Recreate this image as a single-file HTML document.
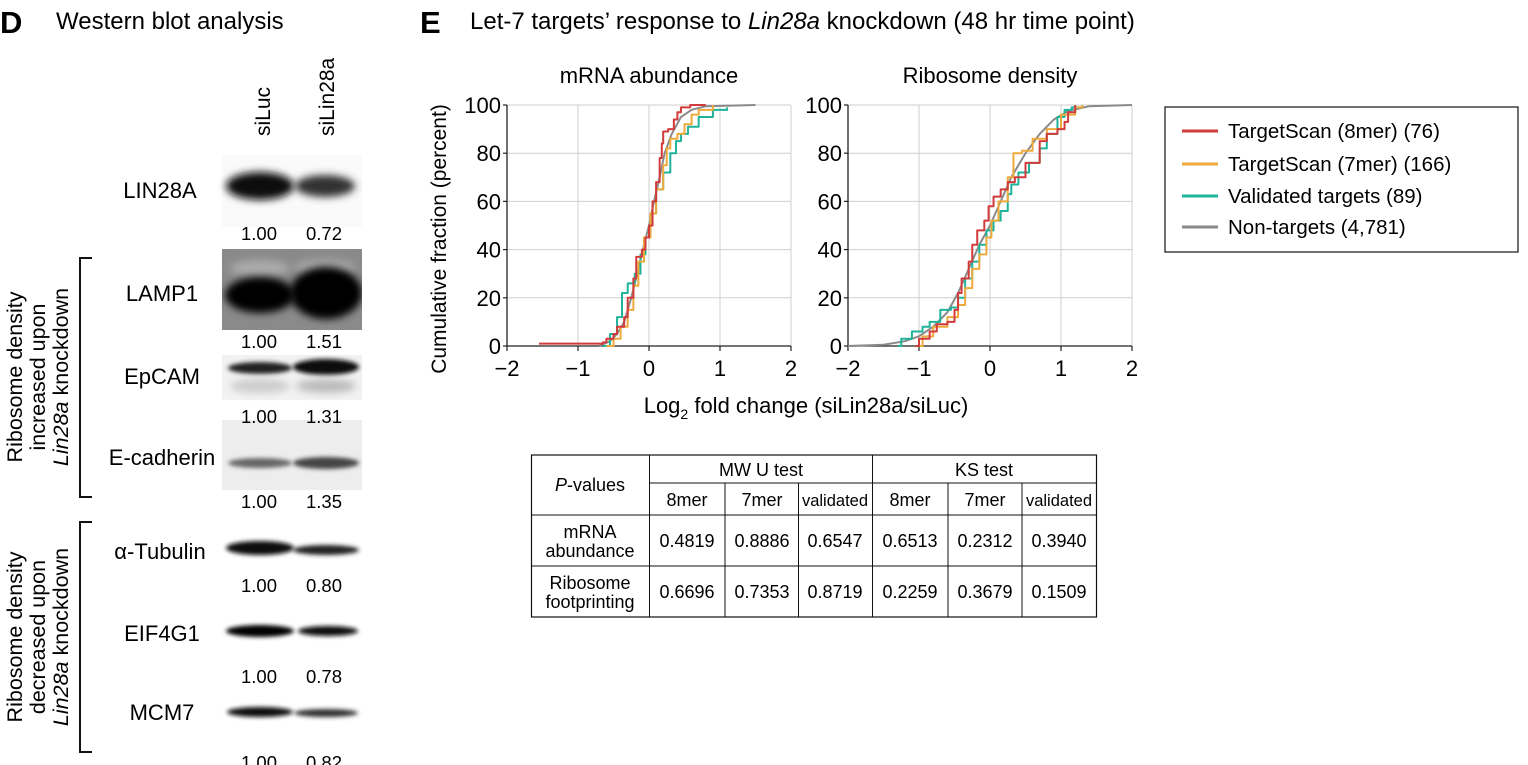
<!DOCTYPE html>
<html><head><meta charset="utf-8">
<style>
html,body{margin:0;padding:0;background:#fff;}
svg{display:block;font-family:"Liberation Sans",Arial,sans-serif;}
</style></head>
<body>
<svg id="fig" width="1528" height="765" viewBox="0 0 1528 765" xmlns="http://www.w3.org/2000/svg">
<defs>
<filter id="blur4" x="-30%" y="-80%" width="160%" height="260%"><feGaussianBlur stdDeviation="4"/></filter>
<filter id="blur2" x="-30%" y="-80%" width="160%" height="260%"><feGaussianBlur stdDeviation="2.2"/></filter>
<clipPath id="clipLamp"><rect x="222" y="249" width="140" height="81"/></clipPath>
</defs>

<text x="0" y="33" font-size="31" font-weight="bold">D</text>
<text x="56" y="29" font-size="24">Western blot analysis</text>

<text transform="translate(270,136) rotate(-90)" font-size="21">siLuc</text>
<text transform="translate(334,136) rotate(-90)" font-size="21">siLin28a</text>

<g>
<rect x="222" y="155" width="140" height="72" fill="#fafafa"/>
<ellipse cx="260" cy="186" rx="34" ry="14" fill="#111" filter="url(#blur4)"/>
<ellipse cx="325" cy="186" rx="30" ry="11" fill="#333" filter="url(#blur4)"/>
</g>
<g clip-path="url(#clipLamp)">
<rect x="222" y="249" width="140" height="81" fill="#8a8a8a"/>
<ellipse cx="260" cy="268" rx="30" ry="8" fill="#aaa" filter="url(#blur4)"/>
<ellipse cx="325" cy="268" rx="30" ry="8" fill="#aaa" filter="url(#blur4)"/>
<ellipse cx="260" cy="295" rx="35" ry="18" fill="#000" filter="url(#blur4)"/>
<ellipse cx="326" cy="293" rx="36" ry="26" fill="#000" filter="url(#blur4)"/>
</g>
<g>
<rect x="222" y="355" width="140" height="45" fill="#f2f2f2"/>
<ellipse cx="260" cy="368" rx="32" ry="6" fill="#222" filter="url(#blur2)"/>
<ellipse cx="326" cy="367" rx="33" ry="8" fill="#111" filter="url(#blur2)"/>
<ellipse cx="260" cy="386" rx="30" ry="7" fill="#ccc" filter="url(#blur4)"/>
<ellipse cx="326" cy="386" rx="30" ry="7" fill="#bbb" filter="url(#blur4)"/>
</g>
<g>
<rect x="222" y="420" width="140" height="70" fill="#ededed"/>
<ellipse cx="260" cy="463" rx="32" ry="5" fill="#666" filter="url(#blur2)"/>
<ellipse cx="326" cy="463" rx="33" ry="6" fill="#444" filter="url(#blur2)"/>
</g>
<g>
<ellipse cx="260" cy="548" rx="34" ry="7" fill="#111" filter="url(#blur2)"/>
<ellipse cx="326" cy="550" rx="33" ry="5" fill="#222" filter="url(#blur2)"/>
</g>
<g>
<ellipse cx="260" cy="631" rx="34" ry="6" fill="#000" filter="url(#blur2)"/>
<ellipse cx="328" cy="631" rx="30" ry="5" fill="#111" filter="url(#blur2)"/>
</g>
<g>
<ellipse cx="260" cy="712" rx="33" ry="5" fill="#111" filter="url(#blur2)"/>
<ellipse cx="326" cy="713" rx="32" ry="4" fill="#333" filter="url(#blur2)"/>
</g>

<g font-size="22" text-anchor="middle">
<text x="160" y="198">LIN28A</text>
<text x="162" y="301">LAMP1</text>
<text x="162" y="384">EpCAM</text>
<text x="162" y="465">E-cadherin</text>
<text x="160" y="559">α-Tubulin</text>
<text x="162" y="641">EIF4G1</text>
<text x="162" y="720">MCM7</text>
</g>
<g font-size="18.5" text-anchor="middle">
<text x="259" y="240">1.00</text><text x="324" y="240">0.72</text>
<text x="259" y="348">1.00</text><text x="324" y="348">1.51</text>
<text x="259" y="423">1.00</text><text x="324" y="423">1.31</text>
<text x="259" y="508">1.00</text><text x="324" y="508">1.35</text>
<text x="259" y="592">1.00</text><text x="324" y="592">0.80</text>
<text x="259" y="683">1.00</text><text x="324" y="683">0.78</text>
<text x="259" y="769">1.00</text><text x="324" y="769">0.82</text>
</g>
<path d="M92,258 H80 V497 H92" fill="none" stroke="#111" stroke-width="2"/>
<path d="M92,522 H80 V752 H92" fill="none" stroke="#111" stroke-width="2"/>
<g font-size="21.5" text-anchor="middle">
<text transform="translate(22,377) rotate(-90)">Ribosome density</text>
<text transform="translate(45,377) rotate(-90)">increased upon</text>
<text transform="translate(68,377) rotate(-90)"><tspan font-style="italic">Lin28a</tspan> knockdown</text>
</g>
<g font-size="21.5" text-anchor="middle">
<text transform="translate(22,637) rotate(-90)">Ribosome density</text>
<text transform="translate(45,637) rotate(-90)">decreased upon</text>
<text transform="translate(68,637) rotate(-90)"><tspan font-style="italic">Lin28a</tspan> knockdown</text>
</g>

<text x="420" y="33" font-size="31" font-weight="bold">E</text>
<text x="470" y="29" font-size="24">Let-7 targets’ response to <tspan font-style="italic">Lin28a</tspan> knockdown (48 hr time point)</text>

<g id="charts"></g>

<text transform="translate(446,239) rotate(-90)" font-size="21" text-anchor="middle">Cumulative fraction (percent)</text>
<text x="806" y="413" font-size="22" text-anchor="middle">Log<tspan font-size="14" dy="6">2</tspan><tspan dy="-6"> fold change (siLin28a/siLuc)</tspan></text>

<g>
<rect x="1165" y="107" width="353" height="145" fill="#fff" stroke="#111" stroke-width="1.2"/>
<g><line x1="1182" y1="131" x2="1218" y2="131" stroke="#d23b3b" stroke-width="3"/><text x="1228" y="138" font-size="20.5">TargetScan (8mer) (76)</text></g>
<g><line x1="1182" y1="164" x2="1218" y2="164" stroke="#eeaa3c" stroke-width="3"/><text x="1228" y="171" font-size="20.5">TargetScan (7mer) (166)</text></g>
<g><line x1="1182" y1="196" x2="1218" y2="196" stroke="#1eb39a" stroke-width="3"/><text x="1228" y="203" font-size="20.5">Validated targets (89)</text></g>
<g><line x1="1182" y1="227" x2="1218" y2="227" stroke="#8a8a8a" stroke-width="3"/><text x="1228" y="234" font-size="20.5">Non-targets (4,781)</text></g>
</g>

<g font-size="18" text-anchor="middle">
<rect x="531.5" y="455" width="565" height="162" fill="none" stroke="#111" stroke-width="1.2"/>
<g stroke="#111" stroke-width="1">
<line x1="649.5" y1="455" x2="649.5" y2="617"/>
<line x1="872.5" y1="455" x2="872.5" y2="617"/>
<line x1="725" y1="483" x2="725" y2="617"/>
<line x1="798.5" y1="483" x2="798.5" y2="617"/>
<line x1="948" y1="483" x2="948" y2="617"/>
<line x1="1022" y1="483" x2="1022" y2="617"/>
<line x1="649.5" y1="483" x2="1096.5" y2="483"/>
<line x1="531.5" y1="515" x2="1096.5" y2="515"/>
<line x1="531.5" y1="566" x2="1096.5" y2="566"/>
</g>
<text x="590" y="491"><tspan font-style="italic">P</tspan>-values</text>
<text x="761" y="476">MW U test</text>
<text x="984" y="476">KS test</text>
<text x="687" y="506">8mer</text><text x="762" y="506">7mer</text><text x="835" y="506" font-size="16.5">validated</text>
<text x="910" y="506">8mer</text><text x="985" y="506">7mer</text><text x="1059" y="506" font-size="16.5">validated</text>
<text x="590" y="538">mRNA</text><text x="590" y="557">abundance</text>
<text x="590" y="589">Ribosome</text><text x="590" y="608">footprinting</text>
<text x="687" y="547">0.4819</text><text x="762" y="547">0.8886</text><text x="835" y="547">0.6547</text>
<text x="910" y="547">0.6513</text><text x="985" y="547">0.2312</text><text x="1059" y="547">0.3940</text>
<text x="687" y="598">0.6696</text><text x="762" y="598">0.7353</text><text x="835" y="598">0.8719</text>
<text x="910" y="598">0.2259</text><text x="985" y="598">0.3679</text><text x="1059" y="598">0.1509</text>
</g>
</svg>

<script>
const xTicks = [-2, -1, 0, 1, 2];
const yTicks = [0, 20, 40, 60, 80, 100];
const seriesNames = ["nontargets", "validated", "7mer", "8mer"];
const seriesColors = ["#8a8a8a", "#1eb39a", "#eeaa3c", "#d23b3b"];

const mrnaGrayX = [-0.7,-0.55,-0.45,-0.35,-0.25,-0.15,-0.07,0,0.07,0.15,0.22,0.32,0.45,0.6,0.8,1.5];
const mrnaGrayY = [0,2,5,10,20,32,42,50,60,70,80,88,95,98,99.5,100];
const mrnaRedX = [-1.55,-0.65,-0.6,-0.5,-0.45,-0.35,-0.3,-0.22,-0.18,-0.1,-0.05,0,0.05,0.1,0.15,0.18,0.2,0.27,0.35,0.4,0.45,0.58,0.8];
const mrnaRedY = [1,1.5,3,5,8,12,20,28,37,40,45,50,60,68,78,84,89,90,94,97,99,100,100];
const mrnaOrangeX = [-0.6,-0.5,-0.4,-0.3,-0.22,-0.15,-0.07,0.02,0.1,0.2,0.25,0.3,0.4,0.5,0.6,0.7,0.9];
const mrnaOrangeY = [0,3,8,15,25,35,45,55,65,75,82,86,88,92,96,98,100];
const mrnaTealX = [-0.65,-0.55,-0.45,-0.38,-0.3,-0.2,-0.12,-0.05,0.02,0.1,0.2,0.3,0.38,0.45,0.55,0.65,0.7,0.9,1.1];
const mrnaTealY = [0,5,12,22,26,30,38,45,55,65,72,80,85,88,91,91,95,98,99];

const riboGrayX = [-2,-1.5,-1.2,-1,-0.8,-0.6,-0.45,-0.3,-0.15,0,0.15,0.3,0.5,0.7,0.9,1.1,1.4,2];
const riboGrayY = [0,0.5,2,4,8,14,22,32,42,50,60,70,80,88,94,97.5,99.5,100];
const riboRedX = [-1.05,-1,-0.85,-0.75,-0.6,-0.5,-0.45,-0.4,-0.3,-0.25,-0.18,-0.08,-0.02,0.05,0.15,0.25,0.35,0.5,0.7,0.8,0.95,1.05,1.1,1.2];
const riboRedY = [0,3,6,9,10,15,22,28,35,42,48,52,58,62,65,68,70,76,85,88,90,93,97,100];
const riboOrangeX = [-1.05,-0.95,-0.8,-0.6,-0.45,-0.35,-0.25,-0.15,-0.05,0.02,0.12,0.25,0.33,0.45,0.6,0.8,1.0,1.2,1.3];
const riboOrangeY = [0,4,8,12,17,24,32,38,45,52,60,70,80,81,86,90,96,99,100];
const riboTealX = [-1.3,-1.25,-1.1,-0.95,-0.85,-0.7,-0.55,-0.45,-0.35,-0.25,-0.15,-0.05,0.05,0.15,0.25,0.3,0.4,0.55,0.7,0.8,0.95,1.05,1.15,1.3];
const riboTealY = [0,3,6,8,10,15,16,20,28,35,42,48,52,56,63,67,72,76,82,88,95,98,99,100];

const NS = "http://www.w3.org/2000/svg";
const root = document.getElementById("charts");
function mk(tag, attrs, parent) {
  const e = document.createElementNS(NS, tag);
  for (const k in attrs) e.setAttribute(k, attrs[k]);
  parent.appendChild(e);
  return e;
}

function drawPanel(name, title, left, right, series) {
  const top = 105, bottom = 346;
  const xs = v => left + (v + 2) / 4 * (right - left);
  const ys = v => bottom - v / 100 * (bottom - top);
  const g = mk("g", {}, root);
  
  
  const t = mk("text", {x: (left + right) / 2, y: 83, "font-size": 22, "text-anchor": "middle"}, g);
  t.textContent = title;
  
  
  yTicks.forEach(v => {
    if (v > 0) mk("line", {x1: left, x2: right, y1: ys(v), y2: ys(v), stroke: "#cfcfcf", "stroke-width": 1}, g);
    const lab = mk("text", {x: left - 6, y: ys(v) + 8, "font-size": 22, "text-anchor": "end"}, g);
    lab.textContent = v;
    
    
    mk("line", {x1: left - 4, x2: left, y1: ys(v), y2: ys(v), stroke: "#222", "stroke-width": 1.2}, g);
  });
  xTicks.forEach(v => {
    if (v > -2) mk("line", {x1: xs(v), x2: xs(v), y1: top, y2: bottom, stroke: "#cfcfcf", "stroke-width": 1}, g);
    mk("line", {x1: xs(v), x2: xs(v), y1: bottom, y2: bottom + 5, stroke: "#222", "stroke-width": 1.2}, g);
    const lab = mk("text", {x: xs(v), y: bottom + 30, "font-size": 22, "text-anchor": "middle"}, g);
    lab.textContent = v < 0 ? "\u2212" + Math.abs(v) : v;
    
    
  });
  mk("line", {x1: left, x2: left, y1: top, y2: bottom, stroke: "#222", "stroke-width": 1.3}, g);
  mk("line", {x1: left, x2: right, y1: bottom, y2: bottom, stroke: "#222", "stroke-width": 1.3}, g);
  series.forEach((s, i) => {
    let d = "";
    s.x.forEach((xv, j) => {
      if (j === 0) d += "M" + xs(xv) + "," + ys(s.y[j]);
      else if (s.step) d += "H" + xs(xv) + "V" + ys(s.y[j]);
      else d += "L" + xs(xv) + "," + ys(s.y[j]);
    });
    const p = mk("path", {d: d, fill: "none", stroke: seriesColors[i], "stroke-width": 2, "stroke-linejoin": "round"}, g);
    
    
  });
}

drawPanel("chart-mrna-abundance", "mRNA abundance", 507, 791, [
  {x: mrnaGrayX, y: mrnaGrayY, step: false},
  {x: mrnaTealX, y: mrnaTealY, step: true},
  {x: mrnaOrangeX, y: mrnaOrangeY, step: true},
  {x: mrnaRedX, y: mrnaRedY, step: true}
]);
drawPanel("chart-ribosome-density", "Ribosome density", 848, 1132, [
  {x: riboGrayX, y: riboGrayY, step: false},
  {x: riboTealX, y: riboTealY, step: true},
  {x: riboOrangeX, y: riboOrangeY, step: true},
  {x: riboRedX, y: riboRedY, step: true}
]);
</script>
</body></html>
